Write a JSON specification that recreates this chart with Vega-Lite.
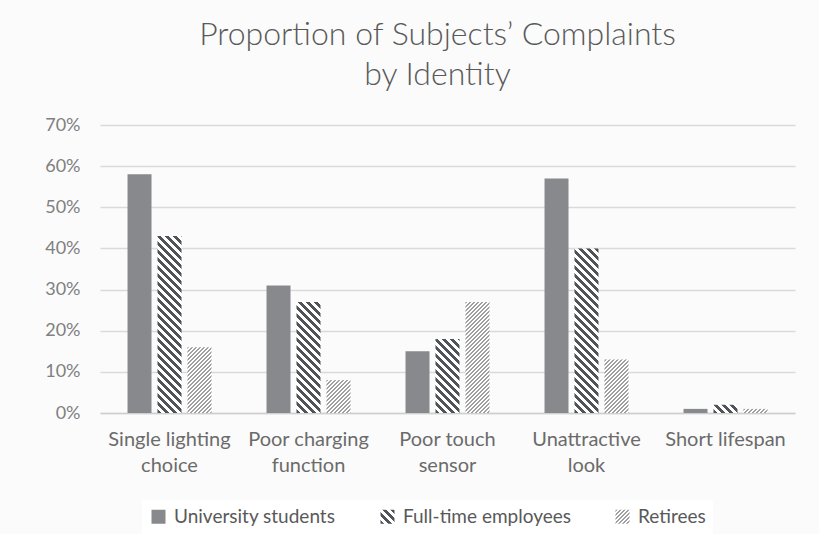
{
  "$schema": "https://vega.github.io/schema/vega-lite/v6.json",
  "width": 695,
  "height": 288,
  "autosize": "none",
  "padding": {"left": 100, "top": 125, "right": 24, "bottom": 121},
  "background": "#fbfbfb",
  "params": [
    {"name": "dk", "value": [
      {"offset":0,"color":"#505357"},{"offset":0.01,"color":"#505357"},{"offset":0.01,"color":"#fff"},{"offset":0.02,"color":"#fff"},
      {"offset":0.02,"color":"#505357"},{"offset":0.03,"color":"#505357"},{"offset":0.03,"color":"#fff"},{"offset":0.04,"color":"#fff"},
      {"offset":0.04,"color":"#505357"},{"offset":0.05,"color":"#505357"},{"offset":0.05,"color":"#fff"},{"offset":0.06,"color":"#fff"},
      {"offset":0.06,"color":"#505357"},{"offset":0.07,"color":"#505357"},{"offset":0.07,"color":"#fff"},{"offset":0.08,"color":"#fff"},
      {"offset":0.08,"color":"#505357"},{"offset":0.09,"color":"#505357"},{"offset":0.09,"color":"#fff"},{"offset":0.10,"color":"#fff"},
      {"offset":0.10,"color":"#505357"},{"offset":0.11,"color":"#505357"},{"offset":0.11,"color":"#fff"},{"offset":0.12,"color":"#fff"},
      {"offset":0.12,"color":"#505357"},{"offset":0.13,"color":"#505357"},{"offset":0.13,"color":"#fff"},{"offset":0.14,"color":"#fff"},
      {"offset":0.14,"color":"#505357"},{"offset":0.15,"color":"#505357"},{"offset":0.15,"color":"#fff"},{"offset":0.16,"color":"#fff"},
      {"offset":0.16,"color":"#505357"},{"offset":0.17,"color":"#505357"},{"offset":0.17,"color":"#fff"},{"offset":0.18,"color":"#fff"},
      {"offset":0.18,"color":"#505357"},{"offset":0.19,"color":"#505357"},{"offset":0.19,"color":"#fff"},{"offset":0.20,"color":"#fff"},
      {"offset":0.20,"color":"#505357"},{"offset":0.21,"color":"#505357"},{"offset":0.21,"color":"#fff"},{"offset":0.22,"color":"#fff"},
      {"offset":0.22,"color":"#505357"},{"offset":0.23,"color":"#505357"},{"offset":0.23,"color":"#fff"},{"offset":0.24,"color":"#fff"},
      {"offset":0.24,"color":"#505357"},{"offset":0.25,"color":"#505357"},{"offset":0.25,"color":"#fff"},{"offset":0.26,"color":"#fff"},
      {"offset":0.26,"color":"#505357"},{"offset":0.27,"color":"#505357"},{"offset":0.27,"color":"#fff"},{"offset":0.28,"color":"#fff"},
      {"offset":0.28,"color":"#505357"},{"offset":0.29,"color":"#505357"},{"offset":0.29,"color":"#fff"},{"offset":0.30,"color":"#fff"},
      {"offset":0.30,"color":"#505357"},{"offset":0.31,"color":"#505357"},{"offset":0.31,"color":"#fff"},{"offset":0.32,"color":"#fff"},
      {"offset":0.32,"color":"#505357"},{"offset":0.33,"color":"#505357"},{"offset":0.33,"color":"#fff"},{"offset":0.34,"color":"#fff"},
      {"offset":0.34,"color":"#505357"},{"offset":0.35,"color":"#505357"},{"offset":0.35,"color":"#fff"},{"offset":0.36,"color":"#fff"},
      {"offset":0.36,"color":"#505357"},{"offset":0.37,"color":"#505357"},{"offset":0.37,"color":"#fff"},{"offset":0.38,"color":"#fff"},
      {"offset":0.38,"color":"#505357"},{"offset":0.39,"color":"#505357"},{"offset":0.39,"color":"#fff"},{"offset":0.40,"color":"#fff"},
      {"offset":0.40,"color":"#505357"},{"offset":0.41,"color":"#505357"},{"offset":0.41,"color":"#fff"},{"offset":0.42,"color":"#fff"},
      {"offset":0.42,"color":"#505357"},{"offset":0.43,"color":"#505357"},{"offset":0.43,"color":"#fff"},{"offset":0.44,"color":"#fff"},
      {"offset":0.44,"color":"#505357"},{"offset":0.45,"color":"#505357"},{"offset":0.45,"color":"#fff"},{"offset":0.46,"color":"#fff"},
      {"offset":0.46,"color":"#505357"},{"offset":0.47,"color":"#505357"},{"offset":0.47,"color":"#fff"},{"offset":0.48,"color":"#fff"},
      {"offset":0.48,"color":"#505357"},{"offset":0.49,"color":"#505357"},{"offset":0.49,"color":"#fff"},{"offset":0.50,"color":"#fff"},
      {"offset":0.50,"color":"#505357"},{"offset":0.51,"color":"#505357"},{"offset":0.51,"color":"#fff"},{"offset":0.52,"color":"#fff"}
    ]},
    {"name": "lt", "value": [
      {"offset":0,"color":"#a0a0a0"},{"offset":0.005,"color":"#a0a0a0"},{"offset":0.005,"color":"#fff"},{"offset":0.01,"color":"#fff"},
      {"offset":0.01,"color":"#a0a0a0"},{"offset":0.015,"color":"#a0a0a0"},{"offset":0.015,"color":"#fff"},{"offset":0.02,"color":"#fff"},
      {"offset":0.02,"color":"#a0a0a0"},{"offset":0.025,"color":"#a0a0a0"},{"offset":0.025,"color":"#fff"},{"offset":0.03,"color":"#fff"},
      {"offset":0.03,"color":"#a0a0a0"},{"offset":0.035,"color":"#a0a0a0"},{"offset":0.035,"color":"#fff"},{"offset":0.04,"color":"#fff"},
      {"offset":0.04,"color":"#a0a0a0"},{"offset":0.045,"color":"#a0a0a0"},{"offset":0.045,"color":"#fff"},{"offset":0.05,"color":"#fff"},
      {"offset":0.05,"color":"#a0a0a0"},{"offset":0.055,"color":"#a0a0a0"},{"offset":0.055,"color":"#fff"},{"offset":0.06,"color":"#fff"},
      {"offset":0.06,"color":"#a0a0a0"},{"offset":0.065,"color":"#a0a0a0"},{"offset":0.065,"color":"#fff"},{"offset":0.07,"color":"#fff"},
      {"offset":0.07,"color":"#a0a0a0"},{"offset":0.075,"color":"#a0a0a0"},{"offset":0.075,"color":"#fff"},{"offset":0.08,"color":"#fff"},
      {"offset":0.08,"color":"#a0a0a0"},{"offset":0.085,"color":"#a0a0a0"},{"offset":0.085,"color":"#fff"},{"offset":0.09,"color":"#fff"},
      {"offset":0.09,"color":"#a0a0a0"},{"offset":0.095,"color":"#a0a0a0"},{"offset":0.095,"color":"#fff"},{"offset":0.10,"color":"#fff"},
      {"offset":0.10,"color":"#a0a0a0"},{"offset":0.105,"color":"#a0a0a0"},{"offset":0.105,"color":"#fff"},{"offset":0.11,"color":"#fff"},
      {"offset":0.11,"color":"#a0a0a0"},{"offset":0.115,"color":"#a0a0a0"},{"offset":0.115,"color":"#fff"},{"offset":0.12,"color":"#fff"},
      {"offset":0.12,"color":"#a0a0a0"},{"offset":0.125,"color":"#a0a0a0"},{"offset":0.125,"color":"#fff"},{"offset":0.13,"color":"#fff"},
      {"offset":0.13,"color":"#a0a0a0"},{"offset":0.135,"color":"#a0a0a0"},{"offset":0.135,"color":"#fff"},{"offset":0.14,"color":"#fff"},
      {"offset":0.14,"color":"#a0a0a0"},{"offset":0.145,"color":"#a0a0a0"},{"offset":0.145,"color":"#fff"},{"offset":0.15,"color":"#fff"},
      {"offset":0.15,"color":"#a0a0a0"},{"offset":0.155,"color":"#a0a0a0"},{"offset":0.155,"color":"#fff"},{"offset":0.16,"color":"#fff"},
      {"offset":0.16,"color":"#a0a0a0"},{"offset":0.165,"color":"#a0a0a0"},{"offset":0.165,"color":"#fff"},{"offset":0.17,"color":"#fff"},
      {"offset":0.17,"color":"#a0a0a0"},{"offset":0.175,"color":"#a0a0a0"},{"offset":0.175,"color":"#fff"},{"offset":0.18,"color":"#fff"},
      {"offset":0.18,"color":"#a0a0a0"},{"offset":0.185,"color":"#a0a0a0"},{"offset":0.185,"color":"#fff"},{"offset":0.19,"color":"#fff"},
      {"offset":0.19,"color":"#a0a0a0"},{"offset":0.195,"color":"#a0a0a0"},{"offset":0.195,"color":"#fff"},{"offset":0.20,"color":"#fff"},
      {"offset":0.20,"color":"#a0a0a0"},{"offset":0.205,"color":"#a0a0a0"},{"offset":0.205,"color":"#fff"},{"offset":0.21,"color":"#fff"},
      {"offset":0.21,"color":"#a0a0a0"},{"offset":0.215,"color":"#a0a0a0"},{"offset":0.215,"color":"#fff"},{"offset":0.22,"color":"#fff"},
      {"offset":0.22,"color":"#a0a0a0"},{"offset":0.225,"color":"#a0a0a0"},{"offset":0.225,"color":"#fff"},{"offset":0.23,"color":"#fff"},
      {"offset":0.23,"color":"#a0a0a0"},{"offset":0.235,"color":"#a0a0a0"},{"offset":0.235,"color":"#fff"},{"offset":0.24,"color":"#fff"},
      {"offset":0.24,"color":"#a0a0a0"},{"offset":0.245,"color":"#a0a0a0"},{"offset":0.245,"color":"#fff"},{"offset":0.25,"color":"#fff"},
      {"offset":0.25,"color":"#a0a0a0"},{"offset":0.255,"color":"#a0a0a0"},{"offset":0.255,"color":"#fff"},{"offset":0.26,"color":"#fff"},
      {"offset":0.26,"color":"#a0a0a0"},{"offset":0.265,"color":"#a0a0a0"},{"offset":0.265,"color":"#fff"},{"offset":0.27,"color":"#fff"},
      {"offset":0.27,"color":"#a0a0a0"},{"offset":0.275,"color":"#a0a0a0"},{"offset":0.275,"color":"#fff"},{"offset":0.28,"color":"#fff"},
      {"offset":0.28,"color":"#a0a0a0"},{"offset":0.285,"color":"#a0a0a0"},{"offset":0.285,"color":"#fff"},{"offset":0.29,"color":"#fff"},
      {"offset":0.29,"color":"#a0a0a0"},{"offset":0.295,"color":"#a0a0a0"},{"offset":0.295,"color":"#fff"},{"offset":0.30,"color":"#fff"},
      {"offset":0.30,"color":"#a0a0a0"},{"offset":0.305,"color":"#a0a0a0"},{"offset":0.305,"color":"#fff"},{"offset":0.31,"color":"#fff"},
      {"offset":0.31,"color":"#a0a0a0"},{"offset":0.315,"color":"#a0a0a0"},{"offset":0.315,"color":"#fff"},{"offset":0.32,"color":"#fff"},
      {"offset":0.32,"color":"#a0a0a0"},{"offset":0.325,"color":"#a0a0a0"},{"offset":0.325,"color":"#fff"},{"offset":0.33,"color":"#fff"},
      {"offset":0.33,"color":"#a0a0a0"},{"offset":0.335,"color":"#a0a0a0"},{"offset":0.335,"color":"#fff"},{"offset":0.34,"color":"#fff"},
      {"offset":0.34,"color":"#a0a0a0"},{"offset":0.345,"color":"#a0a0a0"},{"offset":0.345,"color":"#fff"},{"offset":0.35,"color":"#fff"}
    ]}
  ],
  "title": {
    "text": ["Proportion of Subjects’ Complaints", "by Identity"],
    "font": "Lato",
    "fontSize": 32,
    "fontWeight": 300,
    "color": "#595959",
    "lineHeight": 40,
    "anchor": "middle",
    "offset": 24,
    "dx": -10
  },
  "data": {
    "values": [
      {"complaint": "Single lighting choice", "identity": "University students", "pct": 58},
      {"complaint": "Single lighting choice", "identity": "Full-time employees", "pct": 43},
      {"complaint": "Single lighting choice", "identity": "Retirees", "pct": 16},
      {"complaint": "Poor charging function", "identity": "University students", "pct": 31},
      {"complaint": "Poor charging function", "identity": "Full-time employees", "pct": 27},
      {"complaint": "Poor charging function", "identity": "Retirees", "pct": 8},
      {"complaint": "Poor touch sensor", "identity": "University students", "pct": 15},
      {"complaint": "Poor touch sensor", "identity": "Full-time employees", "pct": 18},
      {"complaint": "Poor touch sensor", "identity": "Retirees", "pct": 27},
      {"complaint": "Unattractive look", "identity": "University students", "pct": 57},
      {"complaint": "Unattractive look", "identity": "Full-time employees", "pct": 40},
      {"complaint": "Unattractive look", "identity": "Retirees", "pct": 13},
      {"complaint": "Short lifespan", "identity": "University students", "pct": 1},
      {"complaint": "Short lifespan", "identity": "Full-time employees", "pct": 2},
      {"complaint": "Short lifespan", "identity": "Retirees", "pct": 1}
    ]
  },
  "mark": {"type": "bar"},
  "encoding": {
    "x": {
      "field": "complaint",
      "type": "nominal",
      "sort": null,
      "scale": {"paddingInner": 0.396, "paddingOuter": 0.198},
      "axis": {
        "title": null,
        "ticks": false,
        "labelAngle": 0,
        "labelFont": "Lato",
        "labelFontSize": 20,
        "labelColor": "#6b6b6b",
        "labelPadding": 16,
        "labelLineHeight": 26,
        "domainColor": "#cfcfcf",
        "domainWidth": 1.5,
        "labelExpr": "length(datum.value) > 14 ? [slice(datum.value, 0, lastindexof(datum.value, ' ')), slice(datum.value, lastindexof(datum.value, ' ') + 1)] : datum.value"
      }
    },
    "xOffset": {
      "field": "identity",
      "type": "nominal",
      "sort": ["University students", "Full-time employees", "Retirees"],
      "scale": {"paddingInner": 0.2, "paddingOuter": 0}
    },
    "y": {
      "field": "pct",
      "type": "quantitative",
      "stack": null,
      "scale": {"domain": [0, 70]},
      "axis": {
        "title": null,
        "values": [0, 10, 20, 30, 40, 50, 60, 70],
        "labelExpr": "datum.value + '%'",
        "domain": false,
        "ticks": false,
        "gridColor": "#dadada",
        "gridWidth": 1.5,
        "labelFont": "Lato",
        "labelFontSize": 18,
        "labelColor": "#808080",
        "labelPadding": 20
      }
    },
    "fill": {
      "field": "identity",
      "type": "nominal",
      "scale": {
        "domain": ["University students", "Full-time employees", "Retirees"],
        "range": [
          "#88898c",
          {"expr": "({gradient: 'linear', x1: 0, y1: 1, x2: 14.2857, y2: -13.2857, stops: dk})"},
          {"expr": "({gradient: 'linear', x1: 0, y1: 0, x2: 14.2857, y2: 14.2857, stops: lt})"}
        ]
      },
      "condition": {
        "test": "datum.identity != 'University students'",
        "value": {"expr": "datum.identity == 'Full-time employees' ? {gradient: 'linear', x1: 0, y1: 1, x2: 400 * bandwidth('xOffset') / (pow(bandwidth('xOffset'), 2) + pow(scale('y', 0) - scale('y', datum.pct), 2)), y2: 1 - 400 * (scale('y', 0) - scale('y', datum.pct)) / (pow(bandwidth('xOffset'), 2) + pow(scale('y', 0) - scale('y', datum.pct), 2)), stops: dk} : {gradient: 'linear', x1: 0, y1: 0, x2: 400 * bandwidth('xOffset') / (pow(bandwidth('xOffset'), 2) + pow(scale('y', 0) - scale('y', datum.pct), 2)), y2: 400 * (scale('y', 0) - scale('y', datum.pct)) / (pow(bandwidth('xOffset'), 2) + pow(scale('y', 0) - scale('y', datum.pct), 2)), stops: lt}"}
      },
      "legend": {
        "orient": "none",
        "legendX": 42,
        "legendY": 375,
        "direction": "horizontal",
        "title": null,
        "symbolType": "square",
        "symbolSize": 196,
        "symbolStrokeWidth": 0,
        "labelFont": "Lato",
        "labelFontSize": 19,
        "labelColor": "#595959",
        "labelLimit": 400,
        "labelOffset": 6,
        "columnPadding": 42,
        "fillColor": "#ffffff",
        "padding": 7
      }
    }
  },
  "config": {
    "view": {"stroke": null},
    "font": "Lato"
  }
}
